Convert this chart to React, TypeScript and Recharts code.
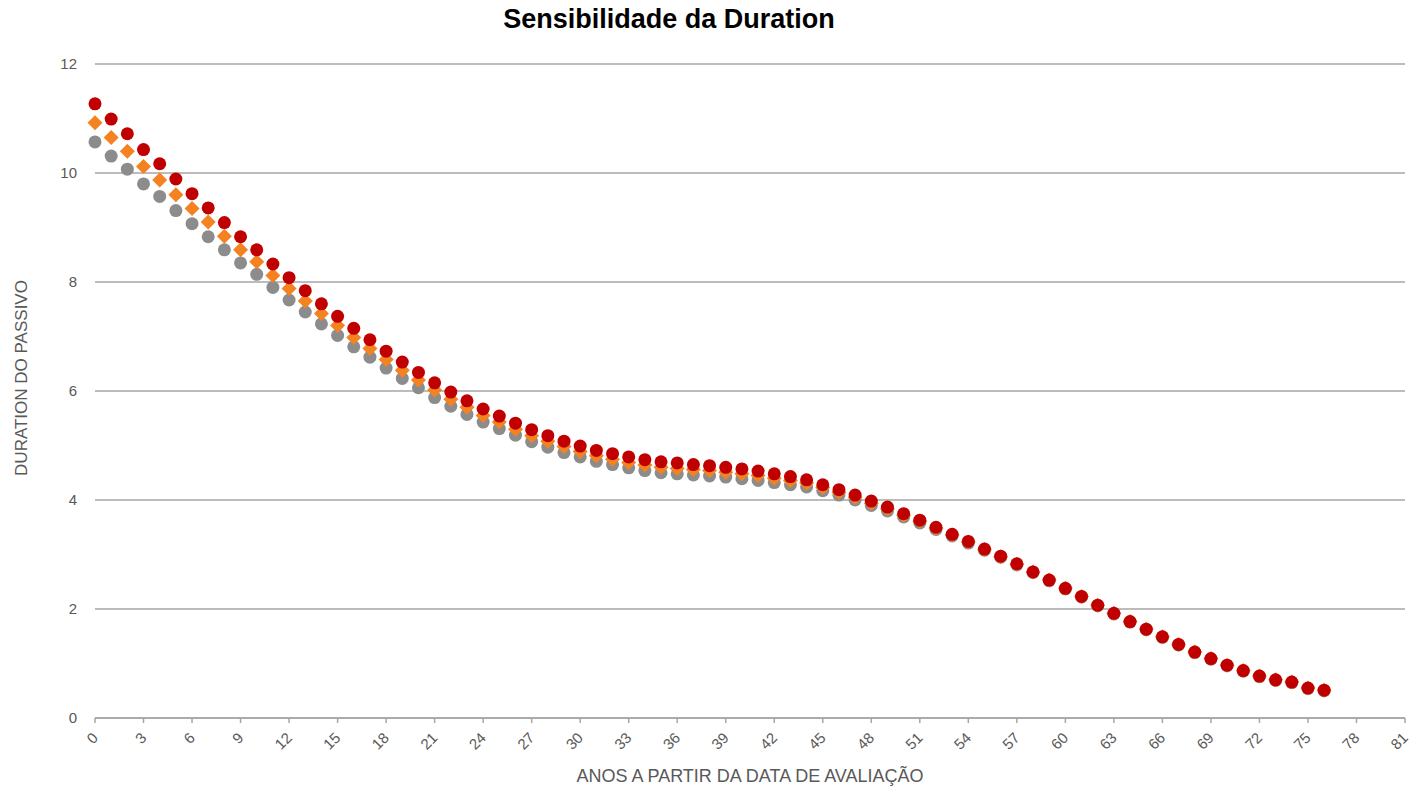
import { ScatterChart, Scatter, XAxis, YAxis, CartesianGrid } from "recharts";

// anos a partir da data de avaliação (0..76)
const anos = Array.from({ length: 77 }, (_, i) => i);

const durationAlta = [
  11.27, 10.99, 10.72, 10.43, 10.17, 9.89, 9.62, 9.36, 9.09, 8.83,
  8.59, 8.33, 8.08, 7.84, 7.6, 7.37, 7.15, 6.94, 6.73, 6.53,
  6.34, 6.15, 5.98, 5.82, 5.67, 5.54, 5.41, 5.29, 5.18, 5.08,
  4.99, 4.91, 4.85, 4.79, 4.74, 4.7, 4.68, 4.65, 4.63, 4.6,
  4.57, 4.53, 4.48, 4.43, 4.37, 4.28, 4.19, 4.09, 3.98, 3.87,
  3.75, 3.63, 3.5, 3.37, 3.24, 3.1, 2.97, 2.83, 2.68, 2.53,
  2.38, 2.23, 2.07, 1.92, 1.77, 1.63, 1.49, 1.35, 1.21, 1.09,
  0.97, 0.87, 0.77, 0.7, 0.66, 0.55, 0.51,
];

const durationBase = [
  10.92, 10.65, 10.4, 10.12, 9.87, 9.6, 9.35, 9.1, 8.84, 8.59,
  8.37, 8.12, 7.88, 7.65, 7.42, 7.2, 6.98, 6.78, 6.58, 6.38,
  6.2, 6.02, 5.85, 5.7, 5.55, 5.43, 5.3, 5.18, 5.08, 4.98,
  4.89, 4.81, 4.75, 4.69, 4.64, 4.6, 4.58, 4.56, 4.54, 4.51,
  4.48, 4.45, 4.4, 4.36, 4.31, 4.23, 4.14, 4.05, 3.94, 3.84,
  3.72, 3.61, 3.48, 3.36, 3.23, 3.09, 2.96, 2.82, 2.68, 2.53,
  2.38, 2.23, 2.07, 1.92, 1.77, 1.63, 1.49, 1.35, 1.21, 1.09,
  0.97, 0.87, 0.77, 0.7, 0.66, 0.55, 0.51,
];

const durationBaixa = [
  10.57, 10.31, 10.07, 9.8, 9.57, 9.31, 9.07, 8.83, 8.59, 8.35,
  8.14, 7.9, 7.67, 7.45, 7.23, 7.02, 6.81, 6.62, 6.42, 6.23,
  6.06, 5.88, 5.72, 5.57, 5.43, 5.31, 5.19, 5.07, 4.97, 4.87,
  4.79, 4.71, 4.65, 4.59, 4.54, 4.5, 4.48, 4.46, 4.44, 4.42,
  4.39, 4.36, 4.32, 4.28, 4.24, 4.17, 4.09, 4.0, 3.9, 3.8,
  3.69, 3.58, 3.46, 3.34, 3.21, 3.08, 2.95, 2.81, 2.67, 2.52,
  2.37, 2.22, 2.06, 1.91, 1.76, 1.62, 1.48, 1.34, 1.2, 1.08,
  0.96, 0.86, 0.76, 0.69, 0.65, 0.54, 0.5,
];

const xTicks = [0, 3, 6, 9, 12, 15, 18, 21, 24, 27, 30, 33, 36, 39, 42, 45, 48, 51, 54, 57, 60, 63, 66, 69, 72, 75, 78, 81];
const yTicks = [0, 2, 4, 6, 8, 10, 12];

const toPoints = (vals: number[]) => anos.map((x, i) => ({ x, y: vals[i] }));

const FONT = "'Liberation Sans', Arial, sans-serif";
const TEXT = "#595959";

const circle = (color: string) => (p: any) => <circle cx={p.cx} cy={p.cy} r={6.5} fill={color} />;
const diamond = (color: string) => (p: any) => {
  const s = 7.5;
  return (
    <polygon
      points={`${p.cx},${p.cy - s} ${p.cx + s},${p.cy} ${p.cx},${p.cy + s} ${p.cx - s},${p.cy}`}
      fill={color}
    />
  );
};

const XTick = (p: any) => (
  <text
    x={p.x + 1}
    y={p.y + 11}
    transform={`rotate(-45 ${p.x + 1} ${p.y + 11})`}
    textAnchor="end"
    dominantBaseline="middle"
    fontSize={15}
    fill={TEXT}
    fontFamily={FONT}
  >
    {p.payload.value}
  </text>
);

export default function App() {
  return (
    <div style={{ position: "absolute", left: 0, top: 0, width: 1410, height: 790, background: "#fff", fontFamily: FONT }}>
      <div style={{ position: "absolute", left: 0, width: 1338, top: 4, textAlign: "center", fontSize: 27, fontWeight: "bold", color: "#000" }}>
        Sensibilidade da Duration
      </div>
      <div
        style={{
          position: "absolute",
          left: 22,
          top: 378,
          transform: "translate(-50%, -50%) rotate(-90deg)",
          whiteSpace: "nowrap",
          fontSize: 17,
          color: TEXT,
        }}
      >
        DURATION DO PASSIVO
      </div>
      <div style={{ position: "absolute", left: 0, width: 1500, top: 766, textAlign: "center", fontSize: 18, color: TEXT }}>
        ANOS A PARTIR DA DATA DE AVALIAÇÃO
      </div>
      <ScatterChart width={1410} height={790} margin={{ top: 64, right: 5, bottom: 27, left: 35 }}>
        <CartesianGrid horizontal vertical={false} stroke="#a6a6a6" strokeWidth={1.3} />
        <XAxis
          type="number"
          dataKey="x"
          domain={[0, 81]}
          ticks={xTicks}
          interval={0}
          height={45}
          stroke="#a6a6a6"
          strokeWidth={1.5}
          tickSize={5}
          tick={<XTick />}
        />
        <YAxis
          type="number"
          dataKey="y"
          domain={[0, 12]}
          ticks={yTicks}
          width={60}
          axisLine={false}
          tickLine={false}
          tickSize={0}
          tickMargin={18}
          tick={{ fontSize: 15, fill: TEXT, fontFamily: FONT }}
        />
        <Scatter data={toPoints(durationBaixa)} fill="#8c8c8c" shape={circle("#8c8c8c")} isAnimationActive={false} />
        <Scatter data={toPoints(durationBase)} fill="#f58220" shape={diamond("#f58220")} isAnimationActive={false} />
        <Scatter data={toPoints(durationAlta)} fill="#c00000" shape={circle("#c00000")} isAnimationActive={false} />
      </ScatterChart>
    </div>
  );
}
